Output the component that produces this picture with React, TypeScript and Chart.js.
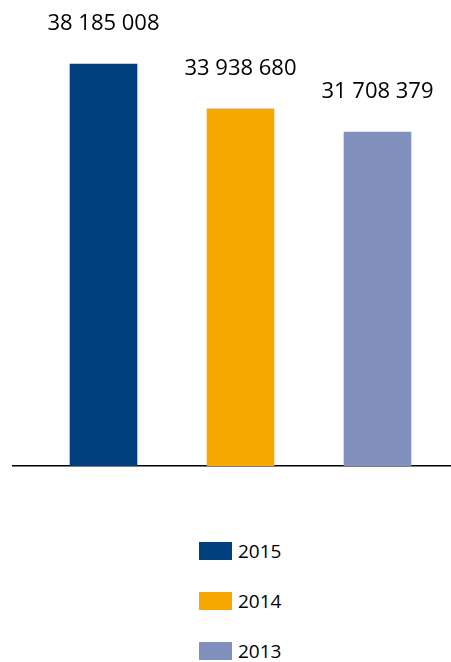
import { useEffect, useRef } from "react";
import { Chart, registerables } from "chart.js";

Chart.register(...registerables);

const years = ["2015", "2014", "2013"];
const values = [38185008, 33938680, 31708379];
const colors = ["#00407f", "#f6a800", "#8290be"];

const fmt = (v: number) => String(v).replace(/\B(?=(\d{3})+(?!\d))/g, " ");

const valueLabels = {
  id: "valueLabels",
  afterDatasetsDraw(chart: any) {
    const ctx = chart.ctx;
    const meta = chart.getDatasetMeta(0);
    ctx.save();
    ctx.font = '22px "Open Sans"';
    ctx.fillStyle = "#000";
    ctx.textAlign = "center";
    ctx.textBaseline = "alphabetic";
    meta.data.forEach((bar: any, i: number) => {
      ctx.fillText(fmt(values[i]), bar.x, bar.y - 34);
    });
    ctx.restore();
  },
};

export default function App() {
  const ref = useRef<HTMLCanvasElement>(null);
  useEffect(() => {
    if (!ref.current) return;
    const chart = new Chart(ref.current, {
      type: "bar",
      data: {
        datasets: [
          {
            label: "Values",
            data: values.map((v, i) => ({ x: i, y: v })),
            backgroundColor: colors,
            borderWidth: 0,
            barThickness: 67,
          },
        ],
      },
      options: {
        animation: false,
        responsive: false,
        maintainAspectRatio: false,
        layout: { padding: { top: 2.8, bottom: 4, left: 13, right: 0 } },
        plugins: { legend: { display: false }, tooltip: { enabled: false } },
        scales: {
          x: {
            type: "linear",
            offset: false,
            min: -0.6606,
            max: 2.5365,
            ticks: { display: false },
            grid: { display: false, drawTicks: false },
            border: { display: true, color: "#000", width: 1.5 },
          },
          y: { display: false, min: 0, max: 44000000 },
        },
      },
      plugins: [valueLabels],
    } as any);
    return () => chart.destroy();
  }, []);

  return (
    <div style={{ position: "absolute", left: 0, top: 0, width: 451, height: 662, background: "#fff" }}>
      <canvas ref={ref} width={451} height={470} style={{ display: "block" }} />
      <div style={{ position: "absolute", left: 199, top: 542 }}>
        {years.map((y, i) => (
          <div
            key={y}
            style={{ display: "flex", alignItems: "center", height: 18, marginBottom: 32 }}
          >
            <span style={{ width: 33, height: 18, background: colors[i], display: "inline-block" }} />
            <span
              style={{
                marginLeft: 6,
                fontFamily: '"Open Sans"',
                fontSize: 19,
                color: "#000",
              }}
            >
              {y}
            </span>
          </div>
        ))}
      </div>
    </div>
  );
}
